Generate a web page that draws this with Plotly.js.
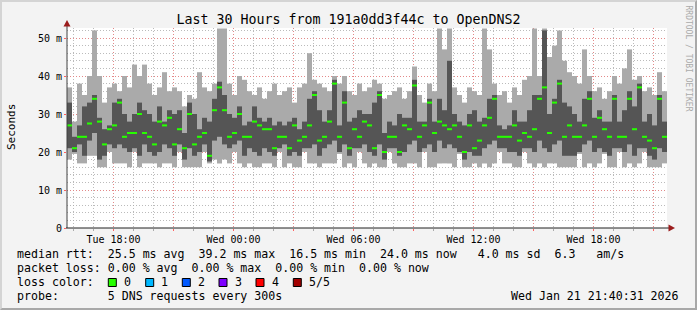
<!DOCTYPE html>
<html><head><meta charset="utf-8">
<script src="https://cdn.plot.ly/plotly-3.0.1.min.js"></script>
<style>
html,body{margin:0;padding:0;background:#f3f3f3;}
#chart{width:697px;height:310px;}
#frame{position:absolute;left:0;top:0;width:693px;height:306px;border-style:solid;border-width:2px;border-color:#d4d4d4 #a8a8a8 #a8a8a8 #d4d4d4;pointer-events:none;}
</style>
</head><body>
<div id="chart"></div><div id="frame"></div>
<script>
// ---- data (ms), one value per 15-minute step starting Tue 15:40:31 ----
const startUTC = Date.UTC(2026, 0, 20, 15, 40, 31);
const endUTC = Date.UTC(2026, 0, 21, 21, 40, 31);
const stepMs = 15 * 60 * 1000;

const medianRtt = [27,21,24,24,27.5,34,28,22,26,27,33,24,25,25,30,25,24,22,28,27,
  29,22,26,21,30,22,24,25,19,31,37,31,24,25,30,24,24,28,27,26,
  26,21,24,24,21,27,23,24,27,35,23,24,28,38,24,33,21,26,24,28,
  27,21,35,20,24,24,20,27,26,37.5,24,27,33,25,28,27,26,27,24,20,
  27,21,23,27,29,34,24,24,24,27,23,25,24,26,34,37,25,33,38,24,
  27,24,24,27,34,24,29,26,24,34,24,24,34,26,37,24,23,21,34,24];
const pingMin = [18,19.5,17,17,19,19,16,16,20,17,17,17,16,20,16,17,17,17,16,17,
  17,16,20,16,16,16,16,20,17,18,17,18,17,20,17,16,17,16,16,17,
  17,16,20,16,17,16,16,20,17,17,16,17,17,17,19.5,16,17,16,20,17,
  16,17,16,16,20,17,16,16,17,17,16,20,16,16,17,17,17,16,19.5,16,
  16,17,16,17,16,17,20,17,17,16,16,20,17,16,17,16,17,17,16,16,
  16,16,19.5,16,17,16,17,19.5,16,16,20,16,17,16,17,20,16,16,16,17];
const pingMax = [37,28,38,35,40,52,40,33,37,38,36,40,37,43,40,43,38,35,37,41,
  36,37,36,32,35,34,41,37,36,38,52.5,52.5,38,35,40,39,36,35,37,34,
  36,38,35,36,37,33,37,38,46,39,38,37,36,40,38,40,36,35,38,36,
  37,39,38,34,35,36,37,34,36,42.5,35,33,38,36,52.5,47,52.5,37,35,33,
  37,36,35,52.5,47,38,35,36,33,37,35,39,40,52.5,40,52.5,45,48,52,44,
  41,40,38,47,40,36,37,34,36,40,38,42,47,39,40,36,37,35,41,36];
const pingLow = [21,20,22,19,23,25,18,19,22,21,22,21,20,21,19,22,20,19,20,22,
  21,19,22,18,21,19,20,22,17.5,23,24,22,21,22,23,19,21,20,19,21,
  20,19,21,22,19,20,19,21,21,22,19,21,22,23,20,22,19,21,21,22,
  20,19,22,18,21,21,19,20,22,23,20,21,22,20,23,21,22,21,20,18,
  20,19,19,21,22,23,21,21,20,20,19,21,21,20,23,21,20,22,23,19,
  19,19,20,22,23,20,21,20,19,21,21,20,22,19,21,21,19,18,21,20];
const pingHigh = [33,24,27,32,33,35,29,26,27,33,34,30,28,30,33,31,30,28,32,28,
  31,30,31,25,33,30,26,29,28,34,38.5,35,30,29,32,27,28,32,29,28,
  29,27,28,27,28,29,26,28,34,36,31,28,31,39,27,36,28,29,31,30,
  30,33,36,25,28,27,30,29,29,39,28,28,34,28,34,31,44,30,28,27,
  30,31,28,29,34,35,27,26,27,31,28,28,31,35,35,52,30,34,39,33,
  32,30,28,34,36,29,31,28,28,35,28,31,36,32,38,28,30,27,35,28];

const yTickVals = [0,10,20,30,40,50];
const yTickText = ['0','10 m','20 m','30 m','40 m','50 m'];
const xTickVals = [Date.UTC(2026,0,20,18), Date.UTC(2026,0,20,21), Date.UTC(2026,0,21,0), Date.UTC(2026,0,21,3),
  Date.UTC(2026,0,21,6), Date.UTC(2026,0,21,9), Date.UTC(2026,0,21,12), Date.UTC(2026,0,21,15),
  Date.UTC(2026,0,21,18), Date.UTC(2026,0,21,21)];
const xTickText = ['Tue 18:00','','Wed 00:00','','Wed 06:00','','Wed 12:00','','Wed 18:00',''];

const legendRows = [
  'median rtt:  25.5 ms avg  39.2 ms max  16.5 ms min  24.0 ms now   4.0 ms sd  6.3   am/s',
  'packet loss: 0.00 % avg  0.00 % max  0.00 % min  0.00 % now',
  'loss color:',
  'probe:       5 DNS requests every 300s'
];
const lossLabels = ['0','1','2','3','4','5/5'];
const lossColors = ['#26ff00','#00b8ff','#0059ff','#7e00ff','#ff0000','#a10000'];
const stamp = 'Wed Jan 21 21:40:31 2026';

// ---- geometry helpers (pixel -> paper) ----
const L = 67, T = 28, W = 600, H = 200;
const px = x => (x - L) / W;
const py = y => (T + H - y) / H;

const times = medianRtt.map((_, i) => startUTC + (i + 0.5) * stepMs);
const MONO = 'DejaVu Sans Mono';
const nb = s => s.replace(/ /g, '\u00A0');

const traces = [
  {type:'bar', x:times, base:pingMin, y:pingMax.map((v,i)=>v-pingMin[i]), width:stepMs,
   marker:{color:'#aaaaaa', line:{width:0}}, hoverinfo:'skip'},
  {type:'bar', x:times, base:pingLow, y:pingHigh.map((v,i)=>v-pingLow[i]), width:stepMs,
   marker:{color:'#555555', line:{width:0}}, hoverinfo:'skip'},
  {type:'bar', x:times, base:medianRtt.map(v=>v-0.27), y:medianRtt.map(()=>0.54), width:stepMs,
   marker:{color:'#26ff00', line:{width:0}}, hoverinfo:'skip'}
];

const annotations = [];
const rowY = [254, 268.3, 282.3, 296];
legendRows.forEach((t, i) => annotations.push({xref:'paper', yref:'paper', x:px(15), y:py(rowY[i]),
  xanchor:'left', yanchor:'middle', showarrow:false, text:nb(t), font:{family:MONO, size:11.6, color:'#000'}}));
annotations.push({xref:'paper', yref:'paper', x:px(681), y:py(296), xanchor:'right', yanchor:'middle',
  showarrow:false, text:nb(stamp), font:{family:MONO, size:11.6, color:'#000'}});
annotations.push({xref:'paper', yref:'paper', x:px(11), y:py(127), xanchor:'center', yanchor:'middle',
  showarrow:false, textangle:-90, text:'Seconds', font:{family:MONO, size:11, color:'#000'}});
annotations.push({xref:'paper', yref:'paper', x:px(688.5), y:py(58), xanchor:'center', yanchor:'middle',
  showarrow:false, textangle:90, text:nb('RRDTOOL / TOBI OETIKER'), font:{family:MONO, size:8, color:'#aaaaaa'}});

const shapes = [];
const sqLeft = [108.3, 145.7, 182.3, 219, 256, 293.3];
lossLabels.forEach((lab, i) => {
  shapes.push({type:'rect', xref:'paper', yref:'paper', x0:px(sqLeft[i]), x1:px(sqLeft[i]+8), y0:py(286.5), y1:py(278.5),
    fillcolor:lossColors[i], line:{color:'#000', width:1}});
  annotations.push({xref:'paper', yref:'paper', x:px(sqLeft[i]+13.5), y:py(rowY[2]), xanchor:'left', yanchor:'middle',
    showarrow:false, text:lab, font:{family:MONO, size:11.6, color:'#000'}});
});
// axis lines and arrows
shapes.push({type:'line', xref:'paper', yref:'paper', x0:px(67), x1:px(67), y0:py(228), y1:py(24), line:{color:'#404040', width:1}});
shapes.push({type:'line', xref:'paper', yref:'paper', x0:px(66), x1:px(671), y0:py(228), y1:py(228), line:{color:'#202020', width:1}});
shapes.push({type:'path', xref:'paper', yref:'paper',
  path:`M ${px(67)},${py(20)} L ${px(63.5)},${py(26.5)} L ${px(70.5)},${py(26.5)} Z`, fillcolor:'#9b1c1c', line:{width:0}});
shapes.push({type:'path', xref:'paper', yref:'paper',
  path:`M ${px(675)},${py(228)} L ${px(668.5)},${py(224.5)} L ${px(668.5)},${py(231.5)} Z`, fillcolor:'#9b1c1c', line:{width:0}});

const layout = {
  width:697, height:310, autosize:false,
  margin:{l:L, r:697-L-W, t:T, b:310-T-H, pad:0},
  paper_bgcolor:'#f3f3f3', plot_bgcolor:'#ffffff',
  barmode:'overlay', showlegend:false,
  title:{text:'Last 30 Hours from 191a0dd3f44c to OpenDNS2', x:0.5, xref:'container', xanchor:'center',
    y:1-19/310, yref:'container', yanchor:'middle', font:{family:MONO, size:13.3, color:'#000'}},
  xaxis:{type:'date', range:[startUTC, endUTC], tickmode:'array', tickvals:xTickVals, ticktext:xTickText,
    showgrid:true, gridcolor:'rgba(240,120,120,0.75)', griddash:'1px,2px', gridwidth:1,
    ticks:'outside', ticklen:2, tickcolor:'#ff6060', showline:false, zeroline:false,
    tickfont:{family:MONO, size:10, color:'#000'}, fixedrange:true,
    minor:{dtick:3600000, tick0:Date.UTC(2026,0,20,0), showgrid:true, gridcolor:'rgba(170,170,170,0.8)', griddash:'1px,2px',
      ticks:'outside', ticklen:2, tickcolor:'#aaaaaa'}},
  yaxis:{range:[0, 200/3.8], tickmode:'array', tickvals:yTickVals, ticktext:yTickText,
    showgrid:true, gridcolor:'rgba(240,120,120,0.75)', griddash:'1px,2px', gridwidth:1,
    ticks:'outside', ticklen:2, tickcolor:'#ff6060', showline:false, zeroline:false,
    tickfont:{family:MONO, size:10, color:'#000'}, fixedrange:true,
    minor:{dtick:2, tick0:0, showgrid:true, gridcolor:'rgba(170,170,170,0.8)', griddash:'1px,2px'}},
  shapes:shapes, annotations:annotations
};

Plotly.newPlot('chart', traces, layout, {displayModeBar:false, staticPlot:true});
</script>
</body></html>
